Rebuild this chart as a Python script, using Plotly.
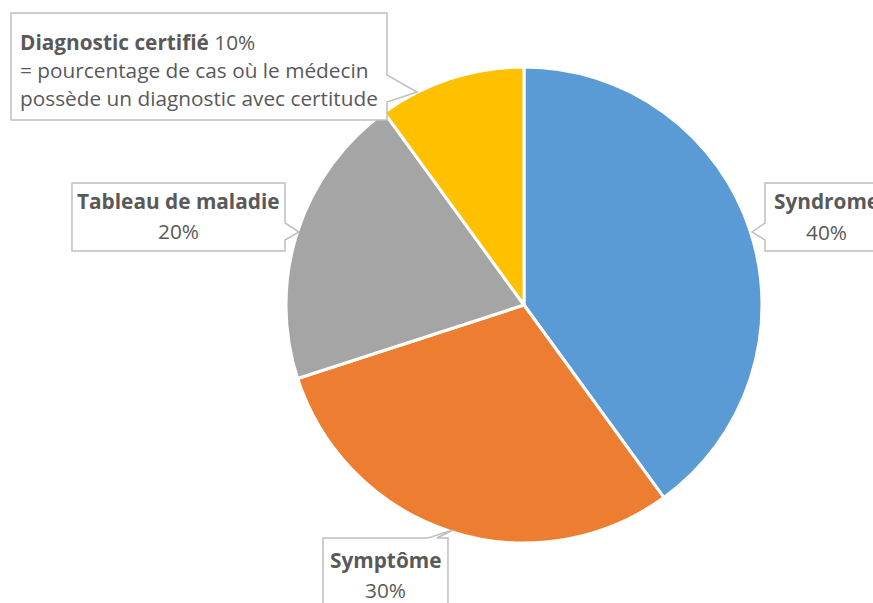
import plotly.graph_objects as go

labels = ["Syndrome", "Symptôme", "Tableau de maladie", "Diagnostic certifié"]
values = [40, 30, 20, 10]
colors = ["#5B9BD5", "#ED7D31", "#A5A5A5", "#FFC000"]

W, H = 873, 603
CX, CY, R = 524, 305, 238


def px(x):
    return x / W


def py(y):
    return 1 - y / H


def path(pts):
    return "M " + " L ".join(f"{px(x):.5f},{py(y):.5f}" for x, y in pts) + " Z"


fig = go.Figure()
fig.add_trace(go.Pie(
    labels=labels, values=values, sort=False, direction="clockwise", rotation=0,
    marker=dict(colors=colors, line=dict(color="white", width=3)),
    textinfo="none", showlegend=False,
    domain=dict(x=[px(CX - R), px(CX + R)], y=[py(CY + R), py(CY - R)]),
))

box_line = dict(color="#BFBFBF", width=1.5)
boxes = [
    [(11, 13), (387, 13), (387, 75), (417, 92), (387, 102), (387, 120), (11, 120)],
    [(72, 183), (285, 183), (285, 223), (299, 232), (285, 240), (285, 251), (72, 251)],
    [(765, 183), (895, 183), (895, 251), (765, 251), (765, 240), (752, 232), (765, 223)],
    [(323, 538), (428, 538), (453, 530), (437, 538), (448, 538), (448, 620), (323, 620)],
]
shapes = [dict(type="path", xref="paper", yref="paper", path=path(b),
               fillcolor="white", line=box_line, layer="above") for b in boxes]

TC = "#595959"
FS = 20.8
ann = []


def text(x, y, s, anchor="center"):
    ann.append(dict(x=px(x), y=py(y), xref="paper", yref="paper", text=s,
                    showarrow=False, xanchor=anchor, yanchor="middle",
                    font=dict(family="Open Sans", size=FS, color=TC)))


text(18, 42, f"<b>{labels[3]}</b> {values[3]}%", "left")
text(18, 70, "= pourcentage de cas où le médecin", "left")
text(18, 98, "possède un diagnostic avec certitude", "left")
text(178, 201, f"<b>{labels[2]}</b>")
text(178, 231, f"{values[2]}%")
text(826, 201, f"<b>{labels[0]}</b>")
text(826, 232, f"{values[0]}%")
text(385, 560, f"<b>{labels[1]}</b>")
text(385, 590, f"{values[1]}%")

fig.update_layout(
    width=W, height=H, margin=dict(l=0, r=0, t=0, b=0),
    paper_bgcolor="white", plot_bgcolor="white",
    shapes=shapes, annotations=ann,
)
fig.write_html("out.html", config={"displayModeBar": False},
               post_script="document.body.style.margin='0';")
